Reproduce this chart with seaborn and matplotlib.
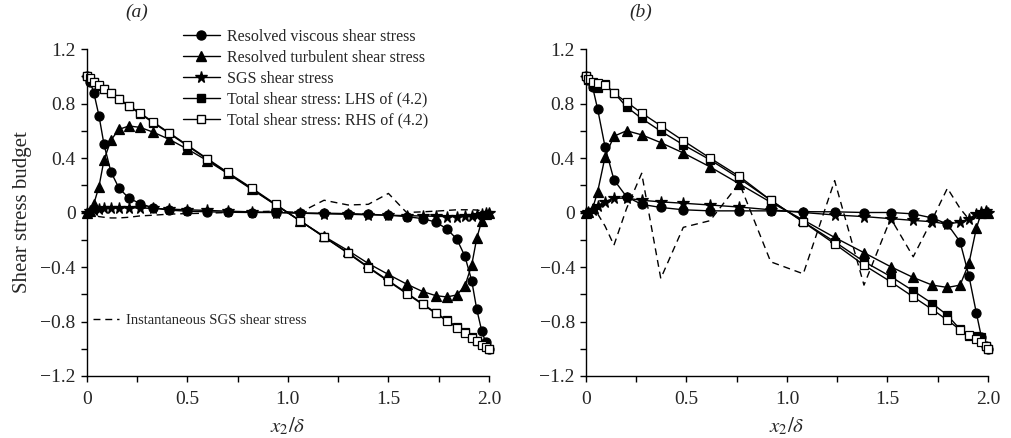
import matplotlib
matplotlib.use('Agg')
import matplotlib.pyplot as plt
import seaborn as sns
from matplotlib.ticker import MultipleLocator, FixedLocator, FixedFormatter
from matplotlib.lines import Line2D

# ---------------- data: panel (a) ----------------
x_a = [0.0, 0.017, 0.036, 0.061, 0.086, 0.12, 0.16, 0.21, 0.265, 0.33, 0.41, 0.5, 0.6, 0.7,
       0.82, 0.94, 1.06, 1.18, 1.30, 1.40, 1.50, 1.59, 1.67, 1.735, 1.79, 1.84, 1.88, 1.914,
       1.939, 1.964, 1.983, 2.0]
visc_a = [1.0, 0.96, 0.875, 0.71, 0.50, 0.30, 0.18, 0.105, 0.066, 0.034, 0.017, 0.01, 0.005, 0.002,
          0.0, 0.0, -0.003, -0.005, -0.008, -0.013, -0.02, -0.03, -0.045, -0.07, -0.12, -0.195,
          -0.32, -0.50, -0.71, -0.87, -0.95, -1.0]
turb_a = [0.0, 0.01, 0.066, 0.19, 0.385, 0.53, 0.61, 0.635, 0.625, 0.59, 0.537, 0.466, 0.38, 0.287,
          0.17, 0.055, -0.06, -0.175, -0.28, -0.374, -0.455, -0.525, -0.58, -0.61, -0.62, -0.605,
          -0.54, -0.386, -0.19, -0.06, -0.01, 0.0]
sgs_a = [0.0, 0.01, 0.02, 0.028, 0.032, 0.035, 0.035, 0.035, 0.033, 0.03, 0.025, 0.02, 0.015, 0.01,
         0.005, 0.0, -0.005, -0.01, -0.013, -0.017, -0.02, -0.023, -0.026, -0.028, -0.03, -0.03,
         -0.028, -0.025, -0.02, -0.012, -0.005, 0.0]
lhs_a = [1.0, 0.98, 0.955, 0.93, 0.905, 0.875, 0.83, 0.78, 0.725, 0.66, 0.58, 0.49, 0.39, 0.29,
         0.175, 0.055, -0.06, -0.18, -0.295, -0.40, -0.50, -0.59, -0.67, -0.735, -0.79, -0.84,
         -0.88, -0.915, -0.94, -0.965, -0.98, -1.0]
rhs_a = [1.0, 0.985, 0.96, 0.935, 0.91, 0.88, 0.835, 0.785, 0.73, 0.665, 0.585, 0.495, 0.395, 0.295,
         0.18, 0.06, -0.06, -0.18, -0.30, -0.405, -0.505, -0.595, -0.675, -0.74, -0.795, -0.845,
         -0.885, -0.92, -0.945, -0.97, -0.985, -1.0]
inst_a = [0.0, -0.01, -0.02, -0.03, -0.035, -0.04, -0.04, -0.035, -0.025, -0.02, -0.012, -0.008,
          -0.005, 0.0, 0.005, 0.01, 0.0, 0.09, 0.055, 0.06, 0.14, 0.0, 0.005, 0.01, 0.015, 0.02,
          0.02, 0.02, 0.018, 0.012, 0.005, 0.0]

# ---------------- data: panel (b) ----------------
x_b = [0.0, 0.01, 0.033, 0.058, 0.095, 0.139, 0.202, 0.277, 0.372, 0.484, 0.617, 0.763, 0.919,
       1.081, 1.237, 1.383, 1.516, 1.628, 1.723, 1.798, 1.861, 1.905, 1.942, 1.967, 1.99, 2.0]
visc_b = [1.0, 0.97, 0.92, 0.758, 0.48, 0.24, 0.115, 0.06, 0.037, 0.02, 0.012, 0.012, 0.012,
          0.006, 0.005, 0.0, 0.0, -0.01, -0.04, -0.085, -0.215, -0.465, -0.737, -0.913, -0.98, -1.0]
turb_b = [0.0, 0.005, 0.03, 0.153, 0.41, 0.56, 0.60, 0.57, 0.513, 0.437, 0.335, 0.21, 0.075,
          -0.055, -0.183, -0.295, -0.398, -0.477, -0.533, -0.55, -0.533, -0.374, -0.116, 0.0, 0.01, 0.0]
sgs_b = [0.0, 0.005, 0.02, 0.05, 0.08, 0.105, 0.105, 0.09, 0.078, 0.068, 0.055, 0.04, 0.02,
         0.0, -0.018, -0.03, -0.045, -0.058, -0.068, -0.085, -0.07, -0.048, -0.01, 0.005, 0.01, 0.0]
lhs_b = [1.0, 0.97, 0.93, 0.915, 0.94, 0.88, 0.775, 0.69, 0.597, 0.497, 0.387, 0.25, 0.09,
         -0.068, -0.215, -0.36, -0.47, -0.575, -0.668, -0.754, -0.857, -0.906, -0.906, -0.913, -0.98, -1.0]
rhs_b = [1.0, 0.98, 0.96, 0.95, 0.935, 0.875, 0.81, 0.73, 0.637, 0.527, 0.40, 0.265, 0.09,
         -0.07, -0.23, -0.386, -0.508, -0.619, -0.712, -0.79, -0.86, -0.90, -0.93, -0.95, -0.98, -1.0]
inst_b = [0.0, 0.0, 0.0, -0.01, -0.1, -0.24, 0.03, 0.288, -0.484, -0.109, -0.06, 0.215, -0.362,
          -0.45, 0.234, -0.533, -0.043, -0.325, -0.05, 0.178, 0.03, -0.05, -0.01, 0.0, 0.0, 0.0]

labels = ['Resolved viscous shear stress', 'Resolved turbulent shear stress', 'SGS shear stress',
          'Total shear stress: LHS of (4.2)', 'Total shear stress: RHS of (4.2)']
inst_label = 'Instantaneous SGS shear stress'
xtick_vals = [0, 0.5, 1.0, 1.5, 2.0]
xtick_labels = ['0', '0.5', '1.0', '1.5', '2.0']
ytick_vals = [-1.2, -0.8, -0.4, 0, 0.4, 0.8, 1.2]
ytick_labels = ['\u22121.2', '\u22120.8', '\u22120.4', '0', '0.4', '0.8', '1.2']

# ---------------- style ----------------
sns.set_style('ticks')
plt.rcParams['font.family'] = ['Liberation Serif', 'DejaVu Serif']
plt.rcParams['mathtext.fontset'] = 'stix'

W, H = 1012, 438
fig = plt.figure(figsize=(W / 100, H / 100), dpi=100)
ax_a = fig.add_axes([86.7 / W, (H - 376) / H, (489 - 86.7) / W, (376 - 49) / H])
ax_b = fig.add_axes([586 / W, (H - 376) / H, (988 - 586) / W, (376 - 49) / H])

LW = 1.0
DASH = (0, (5, 3.5))
styles = [
    dict(marker='o', markersize=6.5, markerfacecolor='black'),
    dict(marker='^', markersize=7, markerfacecolor='black'),
    dict(marker='*', markersize=8.5, markerfacecolor='black'),
    dict(marker='s', markersize=6, markerfacecolor='black'),
    dict(marker='s', markersize=6, markerfacecolor='white'),
]


def draw(ax, x, series, inst):
    common = dict(color='black', linewidth=LW, clip_on=False, estimator=None, sort=False,
                  legend=False, ax=ax)
    sns.lineplot(x=x, y=inst, linestyle=DASH, **common)
    for y, st in zip(series, styles):
        sns.lineplot(x=x, y=y, markeredgecolor='black', markeredgewidth=0.9, **st, **common)
    ax.set_xlim(0, 2.0)
    ax.set_ylim(-1.2, 1.2)
    ax.xaxis.set_major_locator(FixedLocator(xtick_vals))
    ax.xaxis.set_major_formatter(FixedFormatter(xtick_labels))
    ax.xaxis.set_minor_locator(MultipleLocator(0.25))
    ax.yaxis.set_major_locator(FixedLocator(ytick_vals))
    ax.yaxis.set_major_formatter(FixedFormatter(ytick_labels))
    ax.yaxis.set_minor_locator(MultipleLocator(0.2))
    ax.tick_params(which='both', direction='out', color='black', width=1.0)
    ax.tick_params(which='major', length=4, labelsize=14)
    ax.tick_params(axis='x', which='major', pad=7)
    ax.tick_params(axis='y', which='major', pad=4)
    ax.tick_params(which='minor', length=4)
    for s in ['left', 'bottom']:
        ax.spines[s].set_color('black')
        ax.spines[s].set_linewidth(1.0)
    sns.despine(ax=ax)
    ax.set_xlabel(r'$x_2/\delta$', fontsize=15, labelpad=5)
    ax.set_ylabel('')


draw(ax_a, x_a, [visc_a, turb_a, sgs_a, lhs_a, rhs_a], inst_a)
draw(ax_b, x_b, [visc_b, turb_b, sgs_b, lhs_b, rhs_b], inst_b)
ax_a.set_ylabel('Shear stress budget', fontsize=15, labelpad=6)

handles = [Line2D([], [], color='black', linewidth=LW, markeredgecolor='black', **st) for st in styles]
fig.legend(handles, labels, loc='upper left', bbox_to_anchor=(183 / W, 1 - 29 / H),
           frameon=False, borderpad=0, borderaxespad=0, handlelength=2.3, handletextpad=0.45,
           labelspacing=0.3, fontsize=11.5)
inst_handle = [Line2D([], [], color='black', linewidth=LW, linestyle=DASH)]
fig.legend(inst_handle, [inst_label], loc='upper left', bbox_to_anchor=(93 / W, 1 - 314 / H),
           frameon=False, borderpad=0, borderaxespad=0, handlelength=1.8, handletextpad=0.45,
           fontsize=10.5)

fig.text(137 / W, 1 - 12 / H, '(a)', ha='center', va='center', style='italic', fontsize=14)
fig.text(641 / W, 1 - 12 / H, '(b)', ha='center', va='center', style='italic', fontsize=14)

fig.savefig('out.png', dpi=100)
